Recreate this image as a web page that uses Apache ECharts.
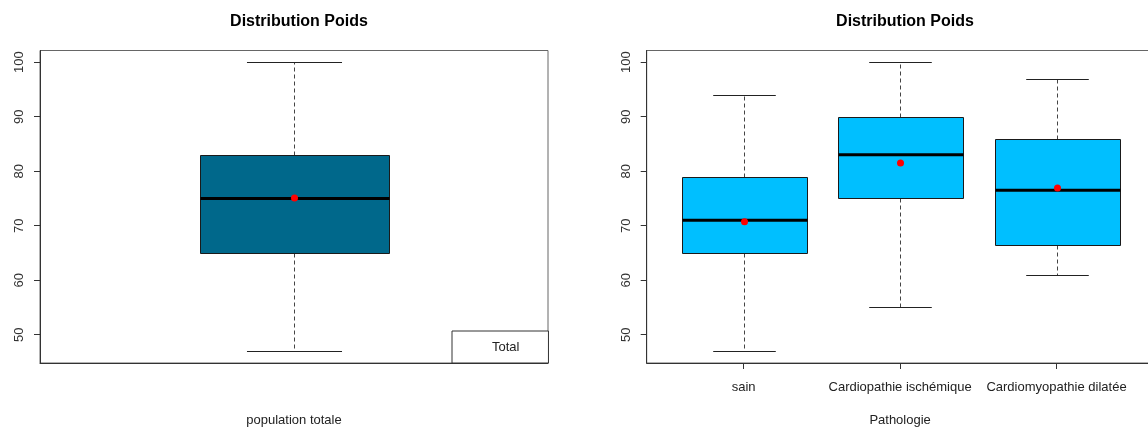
<!DOCTYPE html>
<html>
<head>
<meta charset="utf-8">
<script src="https://cdn.jsdelivr.net/npm/echarts@6/dist/echarts.min.js"></script>
<style>
html,body{margin:0;padding:0;background:#fff;}
#chart{width:1148px;height:427px;}
</style>
</head>
<body>
<div id="chart"></div>
<script>
// ---- data ----
const yTicks = [50, 60, 70, 80, 90, 100];

// total population (left panel)
const totalName = 'Total';
const totalLow = 47;
const totalQ1 = 65;
const totalMedian = 75;
const totalQ3 = 83;
const totalHigh = 100;
const totalMean = 75.1;

// per pathology (right panel)
const categories = ['sain', 'Cardiopathie ischémique', 'Cardiomyopathie dilatée'];
const lowWhisker = [47, 55, 61];
const q1 = [65, 75, 66.5];
const median = [71, 83, 76.5];
const q3 = [79, 90, 86];
const highWhisker = [94, 100, 97];
const means = [70.7, 81.5, 76.9];

// ---- build ----
const FONT = 'Liberation Sans, Arial, Helvetica, sans-serif';

function makeRender(boxW, capW, fill) {
  return function (params, api) {
    const x = api.value(0);
    const c = (v) => api.coord([x, v]);
    const cx = Math.round(c(api.value(1))[0]) + 0.5;
    const yLow = Math.round(c(api.value(1))[1]) + 0.5;
    const yQ1 = Math.round(c(api.value(2))[1]) + 0.5;
    const yMed = c(api.value(3))[1];
    const yQ3 = Math.round(c(api.value(4))[1]) + 0.5;
    const yHigh = Math.round(c(api.value(5))[1]) + 0.5;
    const yMean = c(api.value(6))[1];
    const hb = api.size([boxW, 0])[0] / 2;
    const hc = api.size([capW, 0])[0] / 2;
    const bl = Math.round(cx - hb) + 0.5, br = Math.round(cx + hb) + 0.5;
    return {
      type: 'group',
      children: [
        { type: 'line', shape: { x1: cx, y1: yQ3, x2: cx, y2: yHigh },
          style: { stroke: '#444', lineWidth: 1, lineDash: [4, 3] } },
        { type: 'line', shape: { x1: cx, y1: yQ1, x2: cx, y2: yLow },
          style: { stroke: '#444', lineWidth: 1, lineDash: [4, 3] } },
        { type: 'line', shape: { x1: cx - hc, y1: yHigh, x2: cx + hc, y2: yHigh },
          style: { stroke: '#222', lineWidth: 1 } },
        { type: 'line', shape: { x1: cx - hc, y1: yLow, x2: cx + hc, y2: yLow },
          style: { stroke: '#222', lineWidth: 1 } },
        { type: 'rect', shape: { x: bl, y: yQ3, width: br - bl, height: yQ1 - yQ3 },
          style: { fill: fill, stroke: '#1a1a1a', lineWidth: 1 } },
        { type: 'line', shape: { x1: bl, y1: yMed, x2: br, y2: yMed },
          style: { stroke: '#000', lineWidth: 3 } },
        { type: 'circle', shape: { cx: cx, cy: yMean, r: 3.5 },
          style: { fill: '#ff0000', stroke: null } }
      ]
    };
  };
}

const totalData = [[1, totalLow, totalQ1, totalMedian, totalQ3, totalHigh, totalMean]];
const pathoData = categories.map((c, i) =>
  [i + 1, lowWhisker[i], q1[i], median[i], q3[i], highWhisker[i], means[i]]);

const Y_MIN = 44.8, Y_MAX = 102.15;

function yAxis(gridIndex) {
  return {
    type: 'value', gridIndex: gridIndex, min: Y_MIN, max: Y_MAX,
    splitLine: { show: false },
    axisLine: { show: true, lineStyle: { color: '#333', width: 1 } },
    axisTick: { show: true, length: 6, customValues: yTicks, lineStyle: { color: '#333' } },
    axisLabel: { show: true, customValues: yTicks, rotate: 90, margin: 14,
      fontFamily: FONT, fontSize: 13, color: '#333' }
  };
}

const option = {
  backgroundColor: '#ffffff',
  animation: false,
  title: [
    { text: 'Distribution Poids', left: 294, top: 9, textAlign: 'center',
      textStyle: { fontFamily: FONT, fontSize: 16, fontWeight: 'bold', color: '#000' } },
    { text: 'Distribution Poids', left: 900, top: 9, textAlign: 'center',
      textStyle: { fontFamily: FONT, fontSize: 16, fontWeight: 'bold', color: '#000' } }
  ],
  legend: {
    data: [{ name: totalName, icon: 'rect', itemStyle: { color: 'rgba(0,0,0,0)', borderWidth: 0 } }],
    left: 452, top: 331, orient: 'horizontal',
    itemWidth: 25, itemHeight: 14,
    padding: [9, 29, 9, 10],
    borderColor: '#333', borderWidth: 1, backgroundColor: '#fff',
    selectedMode: false,
    textStyle: { fontFamily: FONT, fontSize: 13, color: '#222' }
  },
  grid: [
    { left: 40, top: 50.5, width: 508, height: 312.5, show: true,
      outerBoundsMode: 'none', containLabel: false,
      borderColor: '#666', borderWidth: 1, backgroundColor: 'transparent' },
    { left: 646.7, top: 50.5, width: 506.8, height: 312.5, show: true,
      outerBoundsMode: 'none', containLabel: false,
      borderColor: '#666', borderWidth: 1, backgroundColor: 'transparent' }
  ],
  xAxis: [
    { type: 'value', gridIndex: 0, min: 0.38, max: 1.62,
      splitLine: { show: false },
      axisLine: { show: true, onZero: false, lineStyle: { color: '#333' } },
      axisTick: { show: false }, axisLabel: { show: false },
      name: 'population totale', nameLocation: 'middle', nameGap: 51,
      nameTextStyle: { fontFamily: FONT, fontSize: 13, color: '#222' } },
    { type: 'value', gridIndex: 1, min: 0.38, max: 3.62,
      splitLine: { show: false },
      axisLine: { show: true, onZero: false, lineStyle: { color: '#333' } },
      axisTick: { show: true, length: 6, customValues: [1, 2, 3], lineStyle: { color: '#333' } },
      axisLabel: { show: true, customValues: [1, 2, 3], margin: 18,
        formatter: (v) => categories[Math.round(v) - 1] || '',
        fontFamily: FONT, fontSize: 13, color: '#222' },
      name: 'Pathologie', nameLocation: 'middle', nameGap: 51,
      nameTextStyle: { fontFamily: FONT, fontSize: 13, color: '#222' } }
  ],
  yAxis: [yAxis(0), yAxis(1)],
  series: [
    { name: totalName, type: 'custom', xAxisIndex: 0, yAxisIndex: 0,
      renderItem: makeRender(0.46, 0.232, '#00688B'),
      encode: { x: 0, y: [1, 2, 3, 4, 5, 6] },
      data: totalData, clip: false },
    { name: 'Pathologie', type: 'custom', xAxisIndex: 1, yAxisIndex: 1,
      renderItem: makeRender(0.8, 0.4, '#00BFFF'),
      encode: { x: 0, y: [1, 2, 3, 4, 5, 6] },
      data: pathoData, clip: false }
  ]
};

const chart = echarts.init(document.getElementById('chart'), null, { renderer: 'canvas' });
chart.setOption(option);
</script>
</body>
</html>
